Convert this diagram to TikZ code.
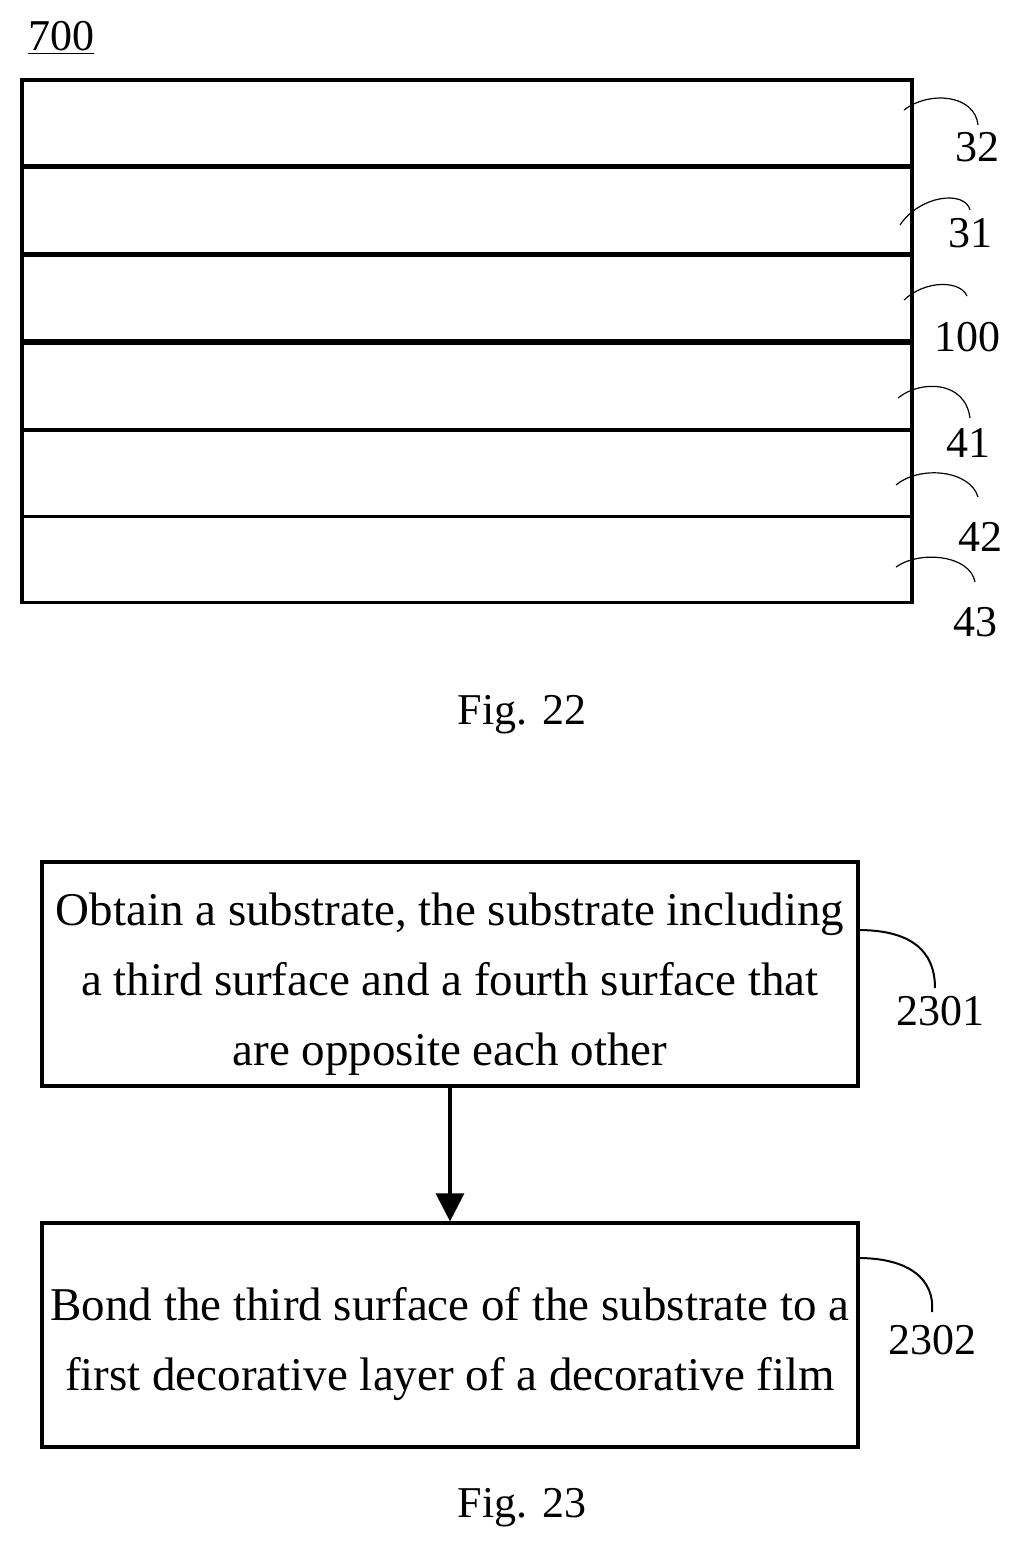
\documentclass[tikz,border=0pt]{standalone}
\usepackage{fontspec}
\setmainfont{Liberation Serif}
\usetikzlibrary{positioning,arrows.meta}
\tikzset{
  layer/.style={draw,line width=1.6pt,minimum width=445pt,minimum height=43pt,inner sep=0pt},
  stepbox/.style={draw,line width=1.6pt,minimum width=408pt,minimum height=112pt,align=center,font=\fontsize{23.5}{35}\selectfont},
  lbl/.style={font=\fontsize{22}{24}\selectfont,inner sep=1pt},
  lead/.style={line width=0.6pt},
}
\newcommand{\lowr}{\rule{0pt}{26pt}}
\begin{document}
\begin{tikzpicture}[x=0.5pt,y=-0.5pt]
  \useasboundingbox (0,0) rectangle (1023,1554);
  \node[lbl,anchor=west] (num) at (26,38) {\underline{700}};
  % layer stack
  \foreach \n/\y in {l32/123,l31/210.5,l100/298,l41/386.5,l42/473.5,l43/559.5}
    \node[layer] (\n) at (467,\y) {};
  \node[lbl] (t32) at (977,147) {32};
  \node[lbl] (t31) at (970,233) {31};
  \node[lbl] (t100) at (967,337) {100};
  \node[lbl] (t41) at (968,443) {41};
  \node[lbl] (t42) at (980,537) {42};
  \node[lbl] (t43) at (975,622) {43};
  \draw[lead] (904,110) .. controls (930,90) and (975,95) .. (978,125);
  \draw[lead] (900,225) .. controls (920,195) and (965,190) .. (970,210);
  \draw[lead] (904,300) .. controls (925,280) and (960,280) .. (967,296);
  \draw[lead] (898,398) .. controls (920,380) and (965,380) .. (970,418);
  \draw[lead] (896,485) .. controls (920,465) and (970,470) .. (978,497);
  \draw[lead] (896,567) .. controls (920,550) and (970,555) .. (975,582);
  \node[font=\fontsize{22}{24}\selectfont] (f22) at (522,715) {Fig. 22};
  % flow
  \node[stepbox] (s1) at (450,974) {\lowr Obtain a substrate, the substrate including\\a third surface and a fourth surface that\\are opposite each other};
  \node[stepbox] (s2) at (450,1335) {\lowr Bond the third surface of the substrate to a\\first decorative layer of a decorative film};
  \draw[line width=1.6pt,-{Triangle[length=14pt,width=14pt]}] (s1) -- (s2);
  \node[lbl] (t2301) at (940,1011) {2301};
  \node[lbl] (t2302) at (932,1340) {2302};
  \draw[lead,line width=1pt] (858,930) .. controls (910,930) and (935,950) .. (935,988);
  \draw[lead,line width=1pt] (858,1258) .. controls (910,1258) and (935,1280) .. (932,1312);
  \node[font=\fontsize{22}{24}\selectfont] (f23) at (522,1508) {Fig. 23};
\end{tikzpicture}
\end{document}
